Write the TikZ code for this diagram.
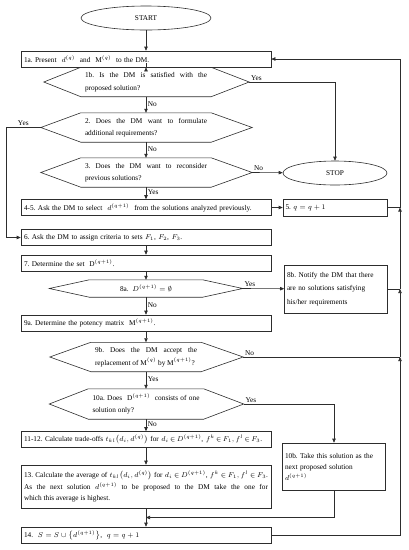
\documentclass[tikz,border=0pt]{standalone}
\usepackage{fontspec}
\setmainfont{Liberation Serif}
\usepackage{amsmath}
\usepackage{amssymb}
\usetikzlibrary{shapes.geometric, arrows.meta, calc}
\definecolor{fline}{RGB}{45,45,45}
\hyphenpenalty=10000
\exhyphenpenalty=10000
\frenchspacing

\tikzset{
  line/.style={draw=fline, line width=0.6pt},
  arr/.style={line, -{Triangle[length=4pt,width=3.4pt]}},
  stepbox/.style={line, rectangle, minimum height=16pt, text width=244pt,
    inner xsep=3pt, inner ysep=1.5pt, align=left},
  sidebox/.style={line, rectangle, text width=98pt, inner xsep=2.5pt, align=left},
  hexa/.style={rectangle, inner xsep=4pt, inner ysep=0pt, align=justify,
    minimum height=29pt, font=\fontsize{7.3}{12.5}\selectfont},
  termin/.style={line, ellipse, minimum height=24pt, inner sep=0pt},
  lbl/.style={inner sep=1.5pt},
  tight/.style={execute at begin node={\thickmuskip=3mu plus 2mu\medmuskip=2mu}},
}

% hexagon round a text node: node, left slant, right slant
\newcommand{\hexframe}[3]{%
  \draw[line] (#1.north west) -- (#1.north east) -- ($(#1.east)+(#3,0)$) coordinate (#1-r)
    -- (#1.south east) -- (#1.south west) -- ($(#1.west)-(#2,0)$) coordinate (#1-l) -- cycle;
}

\begin{document}
\begin{tikzpicture}[x=1pt, y=-1pt, font=\fontsize{7.3}{11.5}\selectfont]
  \useasboundingbox (0,0) rectangle (409,550);
  \def\cx{146}
  \def\rx{400}

  % main column
  \node[termin, minimum width=130pt] (start) at (\cx,18) {START};
  \node[stepbox] (s1a) at (\cx,59) {1a. Present\ \ $d^{(q)}$\ \ and\ \ $\mathrm{M}^{(q)}$\ \ to the DM.};
  \node[hexa, text width=122pt] (s1b) at (\cx,82)
    {1b. Is the DM is satisfied with the proposed solution?};
  \hexframe{s1b}{37}{38}
  \node[hexa, text width=122pt] (s2) at (\cx,127.5)
    {2. Does the DM want to formulate additional requirements?};
  \hexframe{s2}{40}{41}
  \node[hexa, text width=122pt] (s3) at (\cx,172.5)
    {3. Does the DM want to reconsider previous solutions?};
  \hexframe{s3}{40}{41}
  \node[stepbox] (s45) at (\cx,207.5)
    {4-5. Ask the DM to select\ \ $d^{(q+1)}$\ \ from the solutions analyzed previously.};
  \node[stepbox] (s6) at (\cx,237.5) {6. Ask the DM to assign criteria to sets $F_1$, $F_2$, $F_3$.};
  \node[stepbox] (s7) at (\cx,263) {7. Determine the set\ \ $\mathrm{D}^{(q+1)}$.};
  \node[hexa, minimum width=113pt, minimum height=17pt, align=center] (s8a) at (\cx,288.5)
    {8a.\ \ $D^{(q+1)}=\emptyset$};
  \hexframe{s8a}{40}{40}
  \node[stepbox] (s9a) at (\cx,323) {9a. Determine the potency matrix\ \ $\mathrm{M}^{(q+1)}$.};
  \node[hexa, text width=102pt] (s9b) at (\cx,357)
    {9b. Does the DM accept the replacement of $\mathrm{M}^{(q)}$ by $\mathrm{M}^{(q+1)}$?};
  \hexframe{s9b}{41}{42}
  \node[hexa, text width=107pt, minimum height=30pt] (s10a) at (\cx,404)
    {10a. Does\ \ $\mathrm{D}^{(q+1)}$\ \ consists of one solution only?};
  \hexframe{s10a}{39}{40}
  \node[stepbox, tight] (s1112) at (\cx,439.5)
    {11-12. Calculate trade-offs $t_{kl}\bigl(d_i,d^{(q)}\bigr)$ for $d_i\in D^{(q+1)}$, $f^k\in F_1,f^l\in F_3$.};
  \node[stepbox, tight, minimum height=43pt, align=justify] (s13) at (\cx,486.5)
    {13. Calculate the average of $t_{kl}\bigl(d_i,d^{(q)}\bigr)$ for $d_i\in D^{(q+1)}$, $f^k\in F_1,f^l\in F_3$.\linebreak
     As the next solution $d^{(q+1)}$ to be proposed to the DM take the one for\linebreak
     which this average is highest.};
  \node[stepbox] (s14) at (\cx,535)
    {14.\ \ $S=S\cup\bigl\{d^{(q+1)}\bigr\}$,\ \ $q=q+1$};

  % side column
  \node[termin, minimum width=104pt] (stop) at (335,173) {STOP};
  \node[sidebox, text width=99pt, minimum height=17pt] (s5) at (335,207.5) {5. $q=q+1$};
  \node[sidebox, minimum height=48pt, font=\fontsize{7.3}{13.5}\selectfont] (s8b) at (336,289)
    {8b. Notify the DM that there\\are no solutions satisfying\\his/her requirements};
  \node[sidebox, minimum height=47pt, font=\fontsize{7.3}{11}\selectfont] (s10b) at (334,466.5)
    {10b. Take this solution as the\\next proposed solution\\$d^{(q+1)}$};

  % flow down the main column
  \draw[arr] (start) -- (s1a);
  \draw[arr] (s1a) -- (s1b);
  \draw[arr] (s1b) -- node[lbl,right,pos=0.45]{No} (s2);
  \draw[arr] (s2) -- node[lbl,right,pos=0.45]{No} (s3);
  \draw[arr] (s3) -- node[lbl,right,pos=0.45]{Yes} (s45);
  \draw[arr] (s6) -- (s7);
  \draw[arr] (s7) -- (s8a);
  \draw[arr] (s8a) -- node[lbl,right,pos=0.45]{No} (s9a);
  \draw[arr] (s9a) -- (s9b);
  \draw[arr] (s9b) -- node[lbl,right,pos=0.45]{Yes} (s10a);
  \draw[arr] (s10a) -- node[lbl,right,pos=0.45]{No} (s1112);
  \draw[arr] (s1112) -- (s13);
  \draw[arr] (s13) -- (s14);

  % branches
  \draw[arr] (s1b-r) node[lbl,above right]{Yes} -| (stop);
  \draw[arr] (s2-l) -- node[lbl,above]{Yes} ++(-35,0) |- (s6);
  \draw[arr] (s3-r) node[lbl,above right]{No} -- (stop);
  \draw[arr] (s45) -- (s5);
  \draw[arr] (s8a-r) node[lbl,above right]{Yes} -- (s8b);
  \draw[arr] (s10a-r) node[lbl,above right]{Yes} -| (s10b);
  \coordinate (j14) at ($(s13.south)!0.5!(s14.north)$);
  \draw[arr] (s10b) |- (j14);

  % feedback line on the right
  \coordinate (j5) at (\rx,207.5);
  \coordinate (j8b) at (\rx,289);
  \coordinate (j9b) at (\rx,357);
  \draw[line] (s5) -- (j5);
  \draw[line] (s8b) -- (j8b);
  \draw[line] (s9b-r) node[lbl,above right]{No} -- (j9b);
  \draw[arr] (s14) -| (j9b);
  \draw[arr] (j9b) -- (j8b);
  \draw[arr] (j8b) -- (j5);
  \draw[arr] (j5) |- (s1a);
\end{tikzpicture}
\end{document}
